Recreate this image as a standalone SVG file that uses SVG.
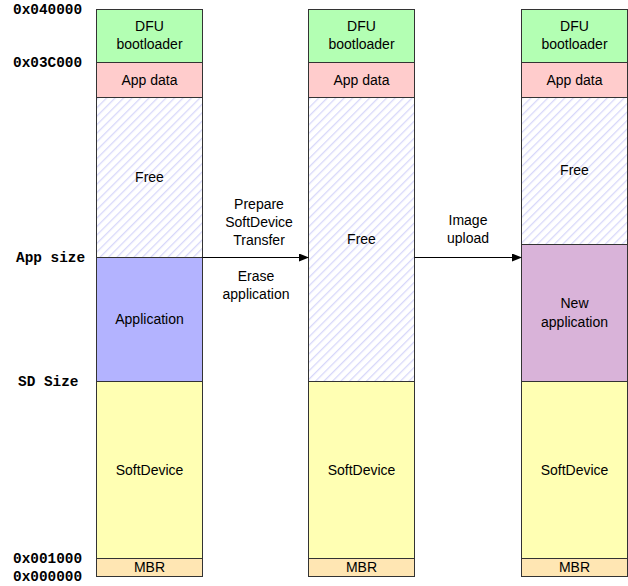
<svg xmlns="http://www.w3.org/2000/svg" width="628" height="586" viewBox="0 0 628 586">
<defs>
<pattern id="hatch" patternUnits="userSpaceOnUse" width="6" height="6" patternTransform="rotate(45)">
<rect width="6" height="6" fill="#ffffff"/>
<line x1="0" y1="0" x2="0" y2="6" stroke="#d8d8fa" stroke-width="2.6"/>
</pattern>
<marker id="arr" markerWidth="10" markerHeight="8" refX="9" refY="4" orient="auto" markerUnits="userSpaceOnUse">
<path d="M0,0 L10,4 L0,8 Z" fill="#000"/>
</marker>
</defs>
<style>
.b{stroke:#333;stroke-width:1}
.t{font-family:"Liberation Sans",Arial,sans-serif;font-size:14px;fill:#000;text-anchor:middle}
.a{font-family:"Liberation Mono","Courier New",monospace;font-size:14.4px;font-weight:bold;fill:#000}
.dfu{fill:#b3ffb3}
.ad{fill:#ffcccc}
.fr{fill:url(#hatch)}
.ap{fill:#b3b3ff}
.na{fill:#d9b3d9}
.sd{fill:#ffffb3}
.mbr{fill:#ffe6b3}
</style>
<g id="addresses">
<text class="a" x="13" y="14">0x040000</text>
<text class="a" x="13" y="67">0x03C000</text>
<text class="a" x="16" y="262">App size</text>
<text class="a" x="18" y="386">SD Size</text>
<text class="a" x="13" y="563">0x001000</text>
<text class="a" x="13" y="581">0x000000</text>
</g>
<g id="col1">
<g id="c1-dfu"><rect class="b dfu" x="96.5" y="9.5" width="106" height="53"/><text class="t" x="149.5" y="31">DFU</text><text class="t" x="149.5" y="49" font-size="13">bootloader</text></g>
<g id="c1-appdata"><rect class="b ad" x="96.5" y="62.5" width="106" height="35"/><text class="t" x="149.5" y="85">App data</text></g>
<g id="c1-free"><rect class="b fr" x="96.5" y="97.5" width="106" height="160"/><text class="t" x="149.5" y="182">Free</text></g>
<g id="c1-app"><rect class="b ap" x="96.5" y="257.5" width="106" height="124"/><text class="t" x="149.5" y="324">Application</text></g>
<g id="c1-sd"><rect class="b sd" x="96.5" y="381.5" width="106" height="177"/><text class="t" x="149.5" y="475">SoftDevice</text></g>
<g id="c1-mbr"><rect class="b mbr" x="96.5" y="558.5" width="106" height="18"/><text class="t" x="149.5" y="572">MBR</text></g>
</g>
<g id="col2">
<g id="c2-dfu"><rect class="b dfu" x="308.5" y="9.5" width="106" height="53"/><text class="t" x="361.5" y="31">DFU</text><text class="t" x="361.5" y="49" font-size="13">bootloader</text></g>
<g id="c2-appdata"><rect class="b ad" x="308.5" y="62.5" width="106" height="35"/><text class="t" x="361.5" y="85">App data</text></g>
<g id="c2-free"><rect class="b fr" x="308.5" y="97.5" width="106" height="284"/><text class="t" x="361.5" y="244">Free</text></g>
<g id="c2-sd"><rect class="b sd" x="308.5" y="381.5" width="106" height="177"/><text class="t" x="361.5" y="475">SoftDevice</text></g>
<g id="c2-mbr"><rect class="b mbr" x="308.5" y="558.5" width="106" height="18"/><text class="t" x="361.5" y="572">MBR</text></g>
</g>
<g id="col3">
<g id="c3-dfu"><rect class="b dfu" x="521.5" y="9.5" width="106" height="53"/><text class="t" x="574.5" y="31">DFU</text><text class="t" x="574.5" y="49" font-size="13">bootloader</text></g>
<g id="c3-appdata"><rect class="b ad" x="521.5" y="62.5" width="106" height="35"/><text class="t" x="574.5" y="85">App data</text></g>
<g id="c3-free"><rect class="b fr" x="521.5" y="97.5" width="106" height="147"/><text class="t" x="574.5" y="175">Free</text></g>
<g id="c3-newapp"><rect class="b na" x="521.5" y="244.5" width="106" height="137"/><text class="t" x="574.5" y="308">New</text><text class="t" x="574.5" y="327">application</text></g>
<g id="c3-sd"><rect class="b sd" x="521.5" y="381.5" width="106" height="177"/><text class="t" x="574.5" y="475">SoftDevice</text></g>
<g id="c3-mbr"><rect class="b mbr" x="521.5" y="558.5" width="106" height="18"/><text class="t" x="574.5" y="572">MBR</text></g>
</g>
<g id="connectors">
<line x1="202.5" y1="257.5" x2="308" y2="257.5" stroke="#000" stroke-width="1" marker-end="url(#arr)"/>
<line x1="414.5" y1="257.5" x2="521" y2="257.5" stroke="#000" stroke-width="1" marker-end="url(#arr)"/>
</g>
<g id="labels">
<text class="t" x="259" y="209">Prepare</text>
<text class="t" x="259" y="227">SoftDevice</text>
<text class="t" x="259" y="245">Transfer</text>
<text class="t" x="256" y="281">Erase</text>
<text class="t" x="256" y="299">application</text>
<text class="t" x="468" y="225">Image</text>
<text class="t" x="468" y="243">upload</text>
</g>
</svg>
